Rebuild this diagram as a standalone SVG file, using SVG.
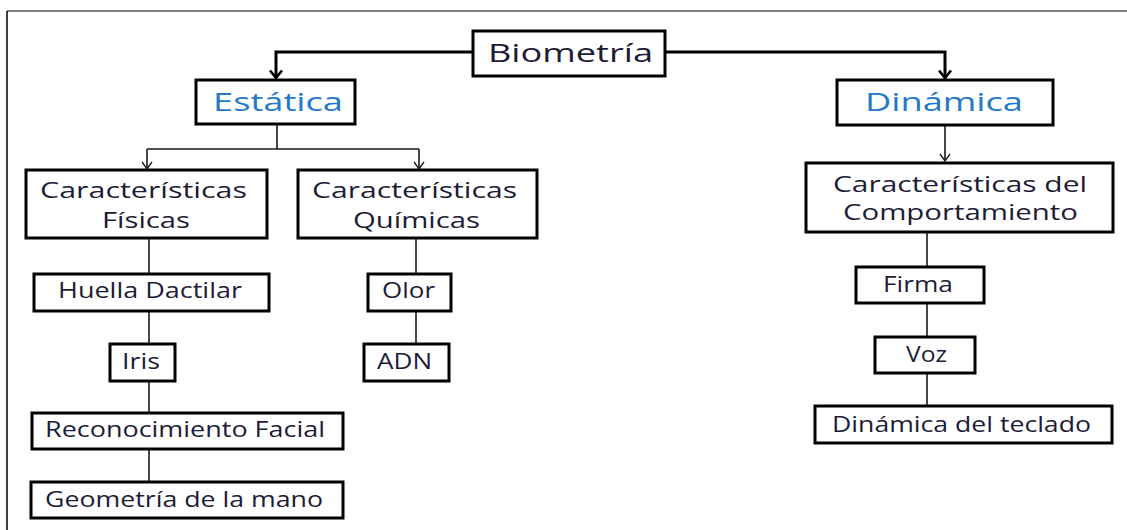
<svg xmlns="http://www.w3.org/2000/svg" width="1127" height="530" viewBox="0 0 1127 530">
  <style>
    .box { fill: #ffffff; stroke: #000000; stroke-width: 3; }
    .lbl { font-family: "Open Sans", "Liberation Sans", sans-serif; font-size: 21px; fill: #1c1c36; }
    .big { font-size: 25px; }
    .blue { fill: #2479c9; }
    .conn { fill: none; stroke: #1a1a1a; stroke-width: 1.6; }
    .thick { fill: none; stroke: #000000; stroke-width: 3; }
  </style>
  <defs>
    <marker id="arrowBold" markerUnits="userSpaceOnUse" viewBox="0 0 10 14" markerWidth="10" markerHeight="14" refX="8.5" refY="7" orient="auto">
      <path d="M1,1 L8.5,7 L1,13" fill="none" stroke="#000" stroke-width="2.6"/>
    </marker>
    <marker id="arrowThin" markerUnits="userSpaceOnUse" viewBox="0 0 9 12" markerWidth="9" markerHeight="12" refX="8" refY="6" orient="auto">
      <path d="M1,1 L8,6 L1,11" fill="none" stroke="#1a1a1a" stroke-width="1.3"/>
    </marker>
  </defs>

  <rect x="0" y="0" width="1127" height="530" fill="#ffffff"/>
  <!-- page frame -->
  <line x1="7" y1="11" x2="1127" y2="11" stroke="#555" stroke-width="1.5"/>
  <line x1="7" y1="11" x2="7" y2="530" stroke="#000" stroke-width="1.5"/>

  <g id="connectors">
    <path class="thick" d="M473,52 H276 V78" marker-end="url(#arrowBold)"/>
    <path class="thick" d="M665,52 H945 V78" marker-end="url(#arrowBold)"/>
    <path class="conn" d="M277,124 V149"/>
    <path class="conn" d="M147,149 H419"/>
    <path class="conn" d="M147,149 V169" marker-end="url(#arrowThin)"/>
    <path class="conn" d="M419,149 V169" marker-end="url(#arrowThin)"/>
    <path class="conn" d="M945,125 V161" marker-end="url(#arrowThin)"/>
    <path class="conn" d="M149,238 V274 M149,311 V344 M149,381 V413 M149,449 V482"/>
    <path class="conn" d="M416,238 V274 M416,311 V344"/>
    <path class="conn" d="M927,232 V267 M927,303 V337 M927,373 V406"/>
  </g>

  <g id="biometria">
    <rect class="box" x="473" y="31" width="192" height="45"/>
    <text class="lbl big" x="488" y="62" textLength="165" lengthAdjust="spacingAndGlyphs">Biometría</text>
  </g>
  <g id="estatica">
    <rect class="box" x="196" y="80" width="159" height="44"/>
    <text class="lbl big blue" x="213" y="111" textLength="130" lengthAdjust="spacingAndGlyphs">Estática</text>
  </g>
  <g id="dinamica">
    <rect class="box" x="837" y="80" width="216" height="45"/>
    <text class="lbl big blue" x="865" y="111" textLength="158" lengthAdjust="spacingAndGlyphs">Dinámica</text>
  </g>

  <g id="fisicas">
    <rect class="box" x="26" y="170" width="241" height="68"/>
    <text class="lbl" x="40" y="198" textLength="207" lengthAdjust="spacingAndGlyphs">Características</text>
    <text class="lbl" x="102" y="228" textLength="88" lengthAdjust="spacingAndGlyphs">Físicas</text>
  </g>
  <g id="quimicas">
    <rect class="box" x="298" y="170" width="239" height="68"/>
    <text class="lbl" x="312" y="198" textLength="205" lengthAdjust="spacingAndGlyphs">Características</text>
    <text class="lbl" x="353" y="228" textLength="127" lengthAdjust="spacingAndGlyphs">Químicas</text>
  </g>
  <g id="comportamiento">
    <rect class="box" x="806" y="163" width="307" height="69"/>
    <text class="lbl" x="833" y="192" textLength="254" lengthAdjust="spacingAndGlyphs">Características del</text>
    <text class="lbl" x="843" y="220" textLength="235" lengthAdjust="spacingAndGlyphs">Comportamiento</text>
  </g>

  <g id="huella">
    <rect class="box" x="34" y="274" width="235" height="37"/>
    <text class="lbl" x="58" y="298" textLength="184" lengthAdjust="spacingAndGlyphs">Huella Dactilar</text>
  </g>
  <g id="iris">
    <rect class="box" x="110" y="344" width="65" height="37"/>
    <text class="lbl" x="122" y="369" textLength="38" lengthAdjust="spacingAndGlyphs">Iris</text>
  </g>
  <g id="facial">
    <rect class="box" x="32" y="413" width="311" height="36"/>
    <text class="lbl" x="45" y="437" textLength="280" lengthAdjust="spacingAndGlyphs">Reconocimiento Facial</text>
  </g>
  <g id="mano">
    <rect class="box" x="31" y="482" width="312" height="36"/>
    <text class="lbl" x="45" y="507" textLength="278" lengthAdjust="spacingAndGlyphs">Geometría de la mano</text>
  </g>

  <g id="olor">
    <rect class="box" x="368" y="274" width="83" height="37"/>
    <text class="lbl" x="382" y="298" textLength="53" lengthAdjust="spacingAndGlyphs">Olor</text>
  </g>
  <g id="adn">
    <rect class="box" x="364" y="344" width="85" height="37"/>
    <text class="lbl" x="377" y="369" textLength="55" lengthAdjust="spacingAndGlyphs">ADN</text>
  </g>

  <g id="firma">
    <rect class="box" x="856" y="267" width="128" height="36"/>
    <text class="lbl" x="883" y="292" textLength="70" lengthAdjust="spacingAndGlyphs">Firma</text>
  </g>
  <g id="voz">
    <rect class="box" x="875" y="337" width="100" height="36"/>
    <text class="lbl" x="906" y="362" textLength="41" lengthAdjust="spacingAndGlyphs">Voz</text>
  </g>
  <g id="teclado">
    <rect class="box" x="815" y="406" width="297" height="37"/>
    <text class="lbl" x="832" y="432" textLength="259" lengthAdjust="spacingAndGlyphs">Dinámica del teclado</text>
  </g>
</svg>
